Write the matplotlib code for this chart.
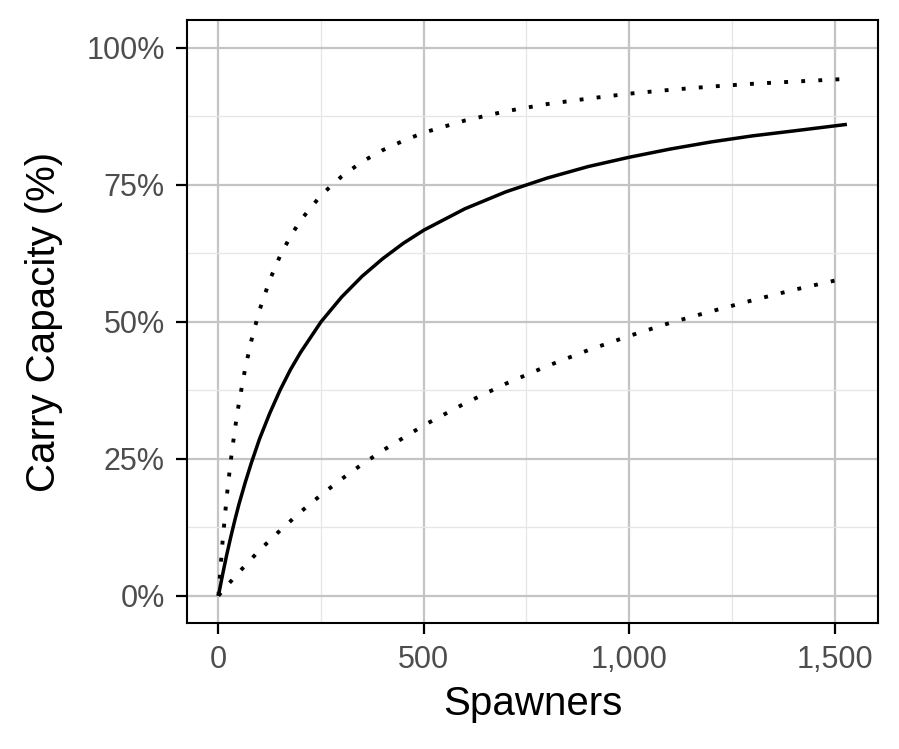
import matplotlib
matplotlib.use("Agg")
import matplotlib.pyplot as plt
from matplotlib.ticker import FuncFormatter, MultipleLocator

# spawners and carrying capacity
spawners = [0, 10, 20, 30, 40, 50, 65, 80, 100, 125, 150, 175, 200, 250, 300,
            350, 400, 450, 500, 600, 700, 800, 900, 1000, 1100, 1200, 1300, 1400, 1530]
cap_mid = [0, .038, .074, .107, .138, .167, .206, .242, .286, .333, .375, .412, .444, .5, .545,
           .583, .615, .643, .667, .706, .737, .762, .783, .8, .815, .828, .839, .848, .860]
cap_hi = [0, .098, .179, .246, .303, .352, .414, .465, .521, .576, .620, .655, .685, .731, .765,
          .792, .813, .830, .845, .867, .884, .897, .907, .916, .923, .929, .934, .938, .943]
cap_lo = [0, .009, .018, .026, .035, .043, .055, .067, .083, .101, .119, .136, .153, .184, .213,
          .240, .265, .288, .311, .351, .387, .419, .448, .474, .498, .519, .539, .558, .580]

plt.rcParams['font.family'] = ['Liberation Sans', 'DejaVu Sans']

fig = plt.figure(figsize=(8.99, 7.49), dpi=100)
ax = fig.add_axes([0.208, 0.168, 0.769, 0.805])

ax.plot(spawners, cap_mid, color='black', lw=2.5, solid_capstyle='butt', zorder=3)
ax.plot(spawners, cap_hi, color='black', lw=2.8, linestyle=(0, (1, 3.4)), zorder=3)
ax.plot(spawners, cap_lo, color='black', lw=2.8, linestyle=(0, (1, 3.4)), zorder=3)

ax.set_xlim(-76.5, 1606.5)
ax.set_ylim(-0.05, 1.05)

ax.xaxis.set_major_locator(MultipleLocator(500))
ax.xaxis.set_minor_locator(MultipleLocator(250))
ax.yaxis.set_major_locator(MultipleLocator(0.25))
ax.yaxis.set_minor_locator(MultipleLocator(0.125))
ax.xaxis.set_major_formatter(FuncFormatter(lambda v, p: f"{int(v):,}"))
ax.yaxis.set_major_formatter(FuncFormatter(lambda v, p: f"{int(round(v * 100))}%"))

ax.grid(which='major', color='#c4c4c4', lw=1.6)
ax.grid(which='minor', color='#e6e6e6', lw=0.9)
ax.set_axisbelow(True)

ax.tick_params(which='major', length=8, width=1.6, color='black',
               labelsize=22, labelcolor='#4d4d4d', pad=8)
ax.tick_params(which='minor', length=0)
for s in ax.spines.values():
    s.set_color('black')
    s.set_linewidth(1.5)

ax.set_xlabel('Spawners', fontsize=29, labelpad=7)
ax.set_ylabel('Carry Capacity (%)', fontsize=29, labelpad=17)

fig.savefig('out.png', dpi=100)
